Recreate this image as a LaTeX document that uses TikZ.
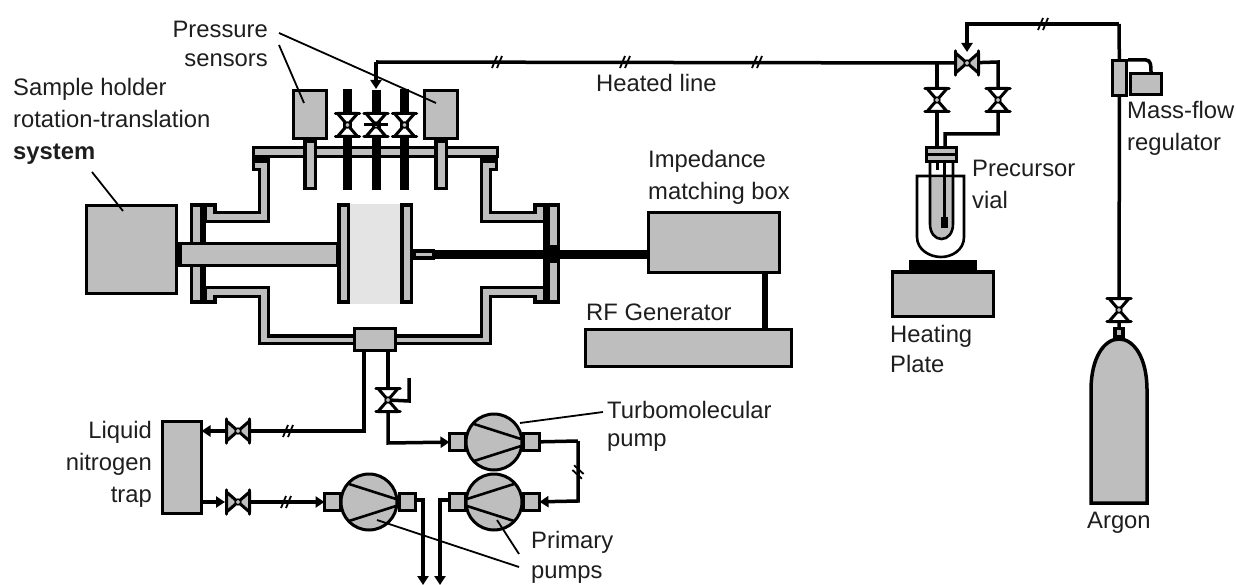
\documentclass[tikz,border=0pt]{standalone}
\usepackage{fontspec}
\setmainfont{Liberation Sans}
\usetikzlibrary{arrows.meta}
\definecolor{partgray}{HTML}{BEBEBE}
\definecolor{gapgray}{HTML}{E4E4E4}
\definecolor{textgray}{HTML}{1E1E1E}
\newcommand{\valveshape}[1]{
	\draw[line width=3pt,fill=#1,line join=round](-10,-11.5)--(10,-11.5)--(-10,11.5)--(10,11.5)--cycle;
	\draw[line width=3.5pt,line cap=round](-12,-11.5)--(12,-11.5)(-12,11.5)--(12,11.5);
	\draw[line width=1.5pt,fill=partgray](0,0)circle(2.8);}
\tikzset{
	box/.style={draw,fill=partgray,line width=3.5pt,inner sep=0pt,outer sep=0pt},
	rod/.style={line width=9pt},
	line/.style={line width=3.5pt},
	feed/.style={line width=3.5pt,-{Triangle[length=9pt,width=11pt]}},
	leader/.style={line width=1.8pt},
	txt/.style={font=\fontsize{23.8}{32}\selectfont,text=textgray,inner sep=0pt,align=left,anchor=base west},
	brk/.pic={\draw[line width=1.8pt](-5,6)--(0,-6)(0,6)--(5,-6);},
	valve/.pic={\valveshape{white}},
	valvegray/.pic={\valveshape{partgray}},
	shell/.pic={
		\draw[box,line join=miter](205,205)--(215,205)--(215,212.5)--(259.5,212.5)--(259.5,169.5)--(253.5,169.5)--(253.5,160)--(268.5,160)--(268.5,221.5)--(205,221.5)--cycle;
		\draw[box,line join=miter](205,287.5)--(268.5,287.5)--(268.5,336)--(355,336)--(355,343.5)--(259.5,343.5)--(259.5,296.5)--(215,296.5)--(215,302)--(205,302)--cycle;},
	pump/.pic={
		\draw[line width=3pt,fill=partgray](0,0)circle(28);
		\draw[line width=2.6pt](-20,-18)--(27,-3)(-20,19)--(27,4);},
}
\begin{document}
\begin{tikzpicture}[x=1pt,y=-1pt]
\useasboundingbox(0,0)rectangle(1236,585);

% reactor walls
\fill[gapgray](350,204)rectangle(400,304);
\pic at(0,0){shell};
\pic[xscale=-1]at(750,0){shell};
\node[box,minimum width=244pt,minimum height=9pt](flangeT)at(375.5,152){};
\node[box,minimum width=10pt,minimum height=97pt](flangeL)at(196.5,253.5){};
\node[box,minimum width=10pt,minimum height=97pt](flangeR)at(553.5,253.5){};
\node[box,minimum width=9.5pt,minimum height=97pt](plateL)at(343.5,253.5){};
\node[box,minimum width=9.5pt,minimum height=97pt](plateR)at(406.5,253.5){};
\fill(201,204)rectangle(206,303);
\fill(543,204)rectangle(548,303);
\fill(252,158)rectangle(270,163);
\fill(480,158)rectangle(498,163);

% parts
\node[box,minimum width=90pt,minimum height=88pt](holder)at(131.5,249.5){};
\node[box,minimum width=158pt,minimum height=22pt](arm)at(259,254.5){};
\node[box,minimum width=33pt,minimum height=48pt](gaugeL)at(310,114.5){};
\node[box,minimum width=33pt,minimum height=48pt](gaugeR)at(441,114.5){};
\node[box,minimum width=41pt,minimum height=22pt](port)at(375,339.5){};
\node[box,minimum width=19pt,minimum height=7pt](stub)at(424,254.5){};
\node[box,minimum width=131pt,minimum height=60pt](match)at(714,242.5){};
\node[box,minimum width=206pt,minimum height=37pt](rf)at(688.5,348){};
\node[box,minimum width=39pt,minimum height=92pt](trap)at(182,467.5){};
\node[box,minimum width=101pt,minimum height=44.5pt](plate)at(943,294){};
\node[box,minimum width=14pt,minimum height=35pt](mfcL)at(1119.5,78){};
\node[box,minimum width=31pt,minimum height=21pt](mfcR)at(1146,84){};
\node[box,minimum width=8pt,minimum height=8pt](neck)at(1119,332.5){};
\node[box,fill=black,minimum width=65pt,minimum height=7pt](hot)at(943,265.5){};

% gauges
\node[box,minimum width=10.5pt,minimum height=47pt](stemL)at(310,165){};
\node[box,minimum width=10.5pt,minimum height=47pt](stemR)at(441,165){};
\draw[rod](347.5,89)--(347.5,190);
\draw[rod](376,90)--(376,190);
\draw[rod](404.5,89)--(404.5,190);

% feed
\node[coordinate](v1)at(347.5,125){};
\node[coordinate](v2)at(376,125){};
\node[coordinate](v3)at(404.5,125){};
\node[coordinate](v4)at(967,63){};
\node[coordinate](v5)at(937,100){};
\node[coordinate](v6)at(998,100){};
\node[coordinate](v7)at(1119,310){};
\node[coordinate](v8)at(238,431){};
\node[coordinate](v9)at(238,502){};
\node[coordinate](v9in)at(225,502){};
\node[coordinate](v10)at(388,400){};
\node[coordinate](t1)at(376,62){};
\node[coordinate](t2)at(376,89){};
\node[coordinate](t3)at(967,24){};
\node[coordinate](t4)at(1119,24){};
\node[coordinate](t5)at(998,62){};
\node[coordinate](t6)at(998,134){};
\node[coordinate](t7)at(945,134){};
\node[coordinate](t8)at(945,146){};
\node[coordinate](t9)at(937,62){};
\node[coordinate](t10)at(937,146){};

\draw[feed](t1)--(t2);
\draw[line](t1)--(v4);
\draw[line](v4)--(t5)--(t6)--(t7)--(t8);
\draw[line](t9)--(t10);
\draw[feed](t4)--(t3)--(967,52);
\draw[line](t4)--(mfcL);
\draw[line](mfcL)--(v7)--(neck);
\draw[line width=6pt](match.south-|765,0)--(rf.north-|765,0);
\draw[line width=9pt](stub.east)--(match.west|-stub);
\fill(547,245)rectangle(560,263);

% flask
\node[box,minimum width=30pt,minimum height=14pt](cap)at(941.5,154.5){};
\fill(925,153)rectangle(958,156);
\draw[line width=2.6pt](917,176)--(917,237) .. controls (917,250) and (930,257) .. (941,257) .. controls (952,257) and (964,250) .. (964,237)--(964,176)--cycle;
\fill[partgray](930,178)--(930,224) .. controls (930,233) and (935,239) .. (941.5,239) .. controls (948,239) and (953,233) .. (953,224)--(953,178)--cycle;
\draw[line width=2.6pt](930,162)--(930,224) .. controls (930,233) and (935,239) .. (941.5,239) .. controls (948,239) and (953,233) .. (953,224)--(953,162);
\draw[line width=2.6pt](944.5,162)--(944.5,218);
\fill(941,217)rectangle(948,228);
\draw[line width=2.6pt](937.5,162)--(937.5,170);

% mass-flow hump
\draw[line width=3.5pt](1128,60)--(1146,60) .. controls (1151,60) and (1151,66) .. (1151,72);

% argon
\draw[box](1091,503)--(1091,390) .. controls (1091,358) and (1104,339) .. (1119,339) .. controls (1134,339) and (1147,358) .. (1147,390)--(1147,503)--cycle;
\node[coordinate](cyl)at(1119,339){};
\draw[line](neck)--(cyl);

% vacuum
\node[box,minimum width=16pt,minimum height=17pt](tL)at(457.5,442){};
\node[box,minimum width=16pt,minimum height=17pt](tR)at(531.5,442){};
\node[box,minimum width=16pt,minimum height=17pt](pL)at(457.5,502){};
\node[box,minimum width=16pt,minimum height=17pt](pR)at(531.5,502){};
\node[box,minimum width=16pt,minimum height=17pt](qL)at(332.5,502){};
\node[box,minimum width=16pt,minimum height=17pt](qR)at(407.5,502){};
\pic at(494,442){pump};
\pic[xscale=-1]at(494,502){pump};
\pic at(369,502){pump};
\node[coordinate](a1)at(364,431){};
\node[coordinate](a2)at(388,443){};
\node[coordinate](a3)at(578,441){};
\node[coordinate](a4)at(578,501){};
\node[coordinate](a5)at(423,500){};
\node[coordinate](a6)at(423,585){};
\node[coordinate](a7)at(440,500){};
\node[coordinate](a8)at(440,585){};
\node[coordinate](a9)at(409,401){};
\node[coordinate](a10)at(409,378){};
\draw[line](port.south-|a1)--(a1)--(v8);
\draw[feed](v8)--(trap.east|-v8);
\draw[feed](trap.east|-v9)--(v9in);
\draw[line](v9in)--(v9);
\draw[feed](v9)--(qL);
\draw[line](port.south-|v10)--(v10);
\draw[feed](v10)--(a2)--(tL);
\draw[line](v10)--(a9)--(a10);
\draw[line](tR)--(a3);
\draw[feed](a3)--(a4)--(pR);
\draw[feed](qR.east|-a5)--(a5)--(a6);
\draw[feed](pL.west|-a7)--(a7)--(a8);

% valves and breaks
\pic at(v1){valve};
\pic at(v2){valve};
\draw[line width=3pt](364,125)--(388,125);
\pic at(v3){valve};
\pic at(v5){valve};
\pic at(v6){valve};
\pic at(v7){valve};
\pic at(v10){valve};
\pic[rotate=90]at(v4){valvegray};
\pic[rotate=90]at(v8){valvegray};
\pic[rotate=90]at(v9){valvegray};
\pic at(497,62){brk};
\pic at(625,62){brk};
\pic at(757,62){brk};
\pic at(1043,24){brk};
\pic at(288,431){brk};
\pic at(286,502){brk};
\pic[rotate=70]at(578,472){brk};

% labels
\node[txt](lblHolder)at(13,160){Sample holder\\rotation-translation\\\textbf{system}};
\node[txt,align=right,anchor=base east](lblGauge)at(268,67){Pressure\\[-3pt]sensors};
\node[txt](lblLine)at(596,92){Heated line};
\node[txt](lblMatch)at(648,200){Impedance\\matching box};
\node[txt](lblRf)at(586,320){RF Generator};
\node[txt](lblVial)at(972,209){Precursor\\vial};
\node[txt](lblPlate)at(890,372){Heating\\[-2pt]Plate};
\node[txt](lblMfc)at(1127,151){Mass-flow\\regulator};
\node[txt](lblArgon)at(1087,528){Argon};
\node[txt,align=right,anchor=base east](lblTrap)at(152,502){Liquid\\nitrogen\\trap};
\node[txt](lblTurbo)at(607,446){Turbomolecular\\[-4pt]pump};
\node[txt](lblPrim)at(531,578){Primary\\[-2pt]pumps};

% leaders
\draw[leader](279,33)--(436,103);
\draw[leader](279,45)--(304,103);
\draw[leader](92,172)--(123,211);
\draw[leader](520,423)--(603,412);
\draw[leader](497,520)--(519,554);
\draw[leader](377,520)--(519,567);
\end{tikzpicture}
\end{document}
